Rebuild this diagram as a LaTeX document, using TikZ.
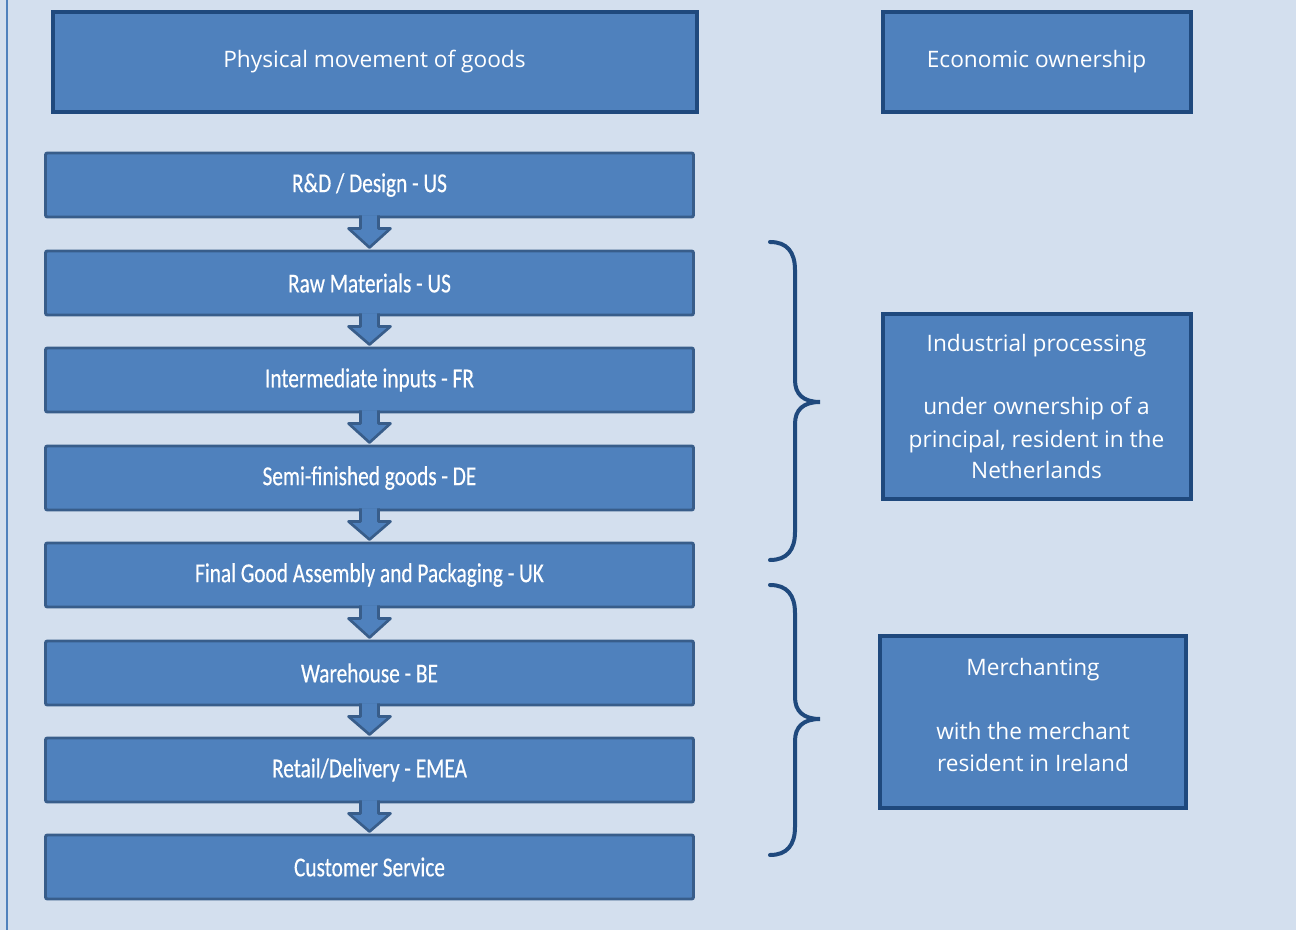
\documentclass[tikz,border=0pt]{standalone}
\usepackage{fontspec}
\setmainfont{Open Sans}
\newfontfamily\condfont[FakeStretch=0.78,FakeBold=0.4]{Carlito}
\usetikzlibrary{calc}
\definecolor{bgblue}{HTML}{D3DFEE}
\definecolor{boxfill}{HTML}{4F81BD}
\definecolor{darkline}{HTML}{1F497D}
\definecolor{midline}{HTML}{385D8A}
\begin{document}
\begin{tikzpicture}[x=0.75pt,y=-0.75pt,
  headbox/.style={draw=darkline,line width=3pt,fill=boxfill,text=white,
    font=\fontsize{17}{24}\selectfont,align=center,inner sep=0pt},
  plaintext/.style={text=white,font=\fontsize{17}{24}\selectfont,align=center,inner sep=0pt},
  stagebox/.style={draw=midline,line width=2.2pt,fill=boxfill,text=white,rounded corners=1.5pt,
    minimum width=486pt,minimum height=48pt,inner sep=0pt,
    font=\condfont\fontsize{20.5}{22}\selectfont},
  flowarrow/.style={fill=boxfill,draw=midline,line width=2pt,line join=round},
  bracestyle/.style={draw=darkline,line width=3pt,line cap=round}]
\fill[bgblue] (0,0) rectangle (1296,930);
\useasboundingbox (0,0) rectangle (1296,930);
\draw[boxfill,line width=1.5pt] (7,0) -- (7,930);

\node[headbox,minimum width=483pt,minimum height=75pt] (phys) at (374.5,62) {Physical movement of goods};
\node[headbox,minimum width=231pt,minimum height=75pt] (econ) at (1036.5,62) {Economic ownership};

\node[stagebox] (s1) at (369.5,185) {R\&D / Design - US};
\node[stagebox] (s2) at (369.5,283) {Raw Materials - US};
\node[stagebox] (s3) at (369.5,380) {Intermediate inputs - FR};
\node[stagebox] (s4) at (369.5,478) {Semi-finished goods - DE};
\node[stagebox] (s5) at (369.5,575) {Final Good Assembly and Packaging - UK};
\node[stagebox] (s6) at (369.5,673) {Warehouse - BE};
\node[stagebox] (s7) at (369.5,770) {Retail/Delivery - EMEA};
\node[stagebox] (s8) at (369.5,867) {Customer Service};

\foreach \a/\b in {s1/s2,s2/s3,s3/s4,s4/s5,s5/s6,s6/s7,s7/s8}{
  \fill[boxfill] ($(\a.south)+(-9,-3)$) -- ($(\a.south)+(-9,10)$) -- ($(\a.south)+(-21,10)$)
     -- ($(\b.north)+(0,-2)$) -- ($(\a.south)+(21,10)$) -- ($(\a.south)+(9,10)$)
     -- ($(\a.south)+(9,-3)$) -- cycle;
  \draw[flowarrow,fill=none] ($(\a.south)+(-9,-3)$) -- ($(\a.south)+(-9,10)$) -- ($(\a.south)+(-21,10)$)
     -- ($(\b.north)+(0,-2)$) -- ($(\a.south)+(21,10)$) -- ($(\a.south)+(9,10)$)
     -- ($(\a.south)+(9,-3)$);
}

\node[headbox,minimum width=231pt,minimum height=139pt] (ind) at (1036.5,406.5)
  {Industrial processing\\[24pt]under ownership of a\\principal, resident in the\\Netherlands};
\node[headbox,minimum width=230pt,minimum height=129pt] (merch) at (1033,722) {};
\node[plaintext] (merchtxt) at ($(merch.center)+(0,-7)$)
  {Merchanting\\[24pt]with the merchant\\resident in Ireland};

\coordinate (b1top) at (770,242);
\coordinate (b1tip) at (820,402);
\coordinate (b1bot) at (770,560);
\draw[bracestyle] (b1top) .. controls (787,242) and (795,252) .. (795,270)
  -- (795,380) .. controls (795,394) and (803,402) .. (b1tip)
  .. controls (803,402) and (795,410) .. (795,424)
  -- (795,532) .. controls (795,550) and (787,560) .. (b1bot);
\coordinate (b2top) at (770,585);
\coordinate (b2tip) at (820,719);
\coordinate (b2bot) at (770,855);
\draw[bracestyle] (b2top) .. controls (787,585) and (795,595) .. (795,613)
  -- (795,697) .. controls (795,711) and (803,719) .. (b2tip)
  .. controls (803,719) and (795,727) .. (795,741)
  -- (795,827) .. controls (795,845) and (787,855) .. (b2bot);
\end{tikzpicture}
\end{document}
